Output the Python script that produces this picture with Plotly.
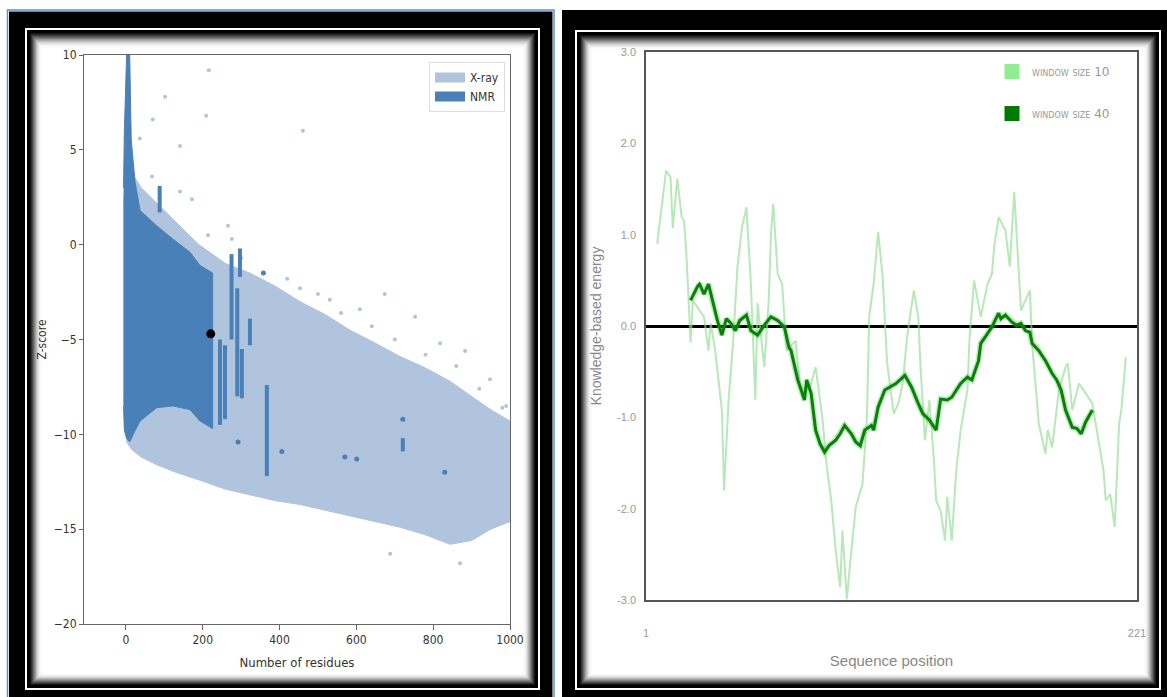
import plotly.graph_objects as go

W, H = 1167, 697

# ---------------- Left panel: ProSA Z-score plot ----------------
xray_env_x = [-7, 2, 15, 40, 80, 130, 190, 260, 323, 390, 453, 520, 583, 650, 714, 780, 844, 900, 950, 1000]
xray_env_top = [2.0, 4.2, 3.8, 3.0, 2.2, 1.2, 0.0, -1.0, -1.5, -2.2, -3.0, -3.7, -4.5, -5.2, -5.9, -6.5, -7.2, -8.0, -8.7, -9.3]
xray_env_bottom = [-8.0, -10.4, -10.8, -11.2, -11.6, -12.0, -12.4, -12.9, -13.2, -13.5, -13.7, -14.0, -14.3, -14.6, -14.9, -15.3, -15.8, -15.6, -15.0, -14.6]

nmr_env_x = [-6, -4, 2, 10, 14, 24, 37, 80, 122, 167, 193, 226]
nmr_env_top = [3.0, 6.0, 10.0, 10.0, 5.5, 3.3, 1.8, 1.0, 0.3, -0.4, -1.1, -1.5]
nmr_env_bottom = [-8.5, -9.8, -10.2, -10.4, -10.3, -9.8, -9.3, -8.6, -8.5, -8.7, -9.3, -9.7]

nmr_streak_x = [88, 245, 258, 275, 290, 297, 302, 323, 367, 721]
nmr_streak_lo = [1.7, -9.5, -9.2, -5.0, -8.0, -1.7, -8.1, -5.3, -12.2, -10.9]
nmr_streak_hi = [3.1, -5.0, -5.3, -0.5, -2.3, -0.2, -5.5, -3.9, -7.4, -10.2]

nmr_pt_x = [292, 406, 570, 601, 721, 830, 358]
nmr_pt_y = [-10.4, -10.9, -11.2, -11.3, -9.2, -12.0, -1.5]

xray_pt_x = [216, 102, 209, 70, 141, 36, 68, 141, 172, 266, 276, 214, 461, 388, 453, 531, 609,
             674, 753, 818, 883, 948, 688, 870, 154, 990, 300, 420, 500, 560, 640, 700, 780, 860,
             920, 980]
xray_pt_y = [9.2, 7.8, 6.8, 6.6, 5.2, 5.6, 3.6, 2.8, 2.4, 1.0, 0.3, 0.5, 6.0, -2.9, -2.3, -2.9, -3.4,
             -2.6, -3.8, -5.2, -5.6, -7.1, -16.3, -16.8, -11.8, -8.5, -0.7, -1.8, -2.6, -3.6, -4.3,
             -5.0, -5.8, -6.4, -7.6, -8.6]

query_x = [221]
query_y = [-4.7]

x_ticks_left = [0, 200, 400, 600, 800, 1000]
y_ticks_left = [10, 5, 0, -5, -10, -15, -20]

# ---------------- Right panel: energy profile ----------------
w10_pos = [6, 8, 10, 12, 13, 15, 17, 18, 19, 21, 22, 25, 27, 29, 30, 32, 35, 36, 38, 40, 42, 44, 46, 48,
           50, 51, 54, 56, 57, 58, 60, 62, 64, 68, 70, 72, 75, 77, 80, 82, 84, 86, 88, 89, 91, 93, 95,
           98, 100, 101, 103, 105, 107, 109, 112, 114, 116, 118, 121, 123, 124, 126, 128, 130, 131,
           133, 135, 136, 138, 140, 142, 145, 146, 148, 151, 154, 156, 157, 159, 162, 164, 166, 168,
           169, 171, 173, 174, 176, 177, 180, 181, 183, 184, 186, 189, 190, 192, 195, 197, 199, 201,
           204, 206, 207, 209, 211, 213, 214, 216]
w10_val = [0.90, 1.27, 1.70, 1.63, 1.07, 1.61, 1.19, 1.16, 0.83, -0.18, 0.28, 0.17, 0.10, -0.27, 0.03,
           -0.27, -0.92, -1.80, -0.81, -0.19, 0.65, 1.08, 1.30, 0.46, -0.81, 0.25, -0.45, 0.28, 1.01,
           1.34, 0.57, 0.46, -0.27, -0.16, -0.63, -0.74, -0.63, -0.45, -1.00, -1.54, -1.91, -2.46,
           -2.86, -2.24, -2.99, -2.46, -1.98, -1.73, -1.00, 0.10, 0.46, 1.03, 0.55, -0.40, -0.96,
           -0.85, -0.63, -0.12, 0.39, 0.10, -0.45, -1.25, -0.81, -1.47, -1.91, -2.02, -2.35, -1.87,
           -2.35, -1.58, -1.14, -0.70, -0.12, 0.50, 0.10, 0.46, 0.57, 0.87, 1.19, 1.05, 0.65, 1.47,
           0.65, 0.17, 0.28, 0.39, -0.19, -0.81, -1.07, -1.40, -1.14, -1.33, -1.11, -0.70, -0.45,
           -0.41, -0.92, -0.63, -0.70, -0.78, -0.85, -1.29, -1.58, -1.91, -1.84, -2.20, -1.07, -0.92,
           -0.34]

w40_pos = [21, 24, 25, 27, 29, 31, 33, 35, 37, 39, 41, 43, 46, 48, 51, 54, 57, 60, 63, 65, 66, 69, 72,
           73, 75, 77, 79, 81, 83, 86, 88, 90, 93, 95, 97, 99, 102, 103, 105, 108, 110, 113, 117, 120,
           123, 125, 128, 131, 133, 136, 138, 140, 142, 145, 147, 150, 151, 153, 156, 159, 160, 162,
           165, 167, 169, 171, 173, 174, 177, 180, 183, 185, 187, 189, 192, 194, 196, 198, 201]
w40_val = [0.28, 0.43, 0.46, 0.35, 0.46, 0.25, 0.06, -0.10, 0.08, 0.03, -0.05, 0.06, 0.12, -0.05,
           -0.10, 0.01, 0.10, 0.06, -0.01, -0.23, -0.27, -0.59, -0.81, -0.59, -0.74, -1.14, -1.29,
           -1.38, -1.31, -1.25, -1.18, -1.09, -1.18, -1.27, -1.31, -1.14, -1.09, -1.14, -0.89, -0.70,
           -0.67, -0.63, -0.54, -0.67, -0.85, -0.96, -1.03, -1.14, -0.80, -0.81, -0.78, -0.70, -0.63,
           -0.56, -0.59, -0.38, -0.19, -0.12, -0.01, 0.14, 0.08, 0.12, 0.04, 0.01, 0.03, -0.05, -0.07,
           -0.19, -0.27, -0.38, -0.52, -0.59, -0.70, -0.92, -1.11, -1.12, -1.18, -1.05, -0.92]

seq_start, seq_end = 1, 221
y_ticks_right = [3, 2, 1, 0, -1, -2, -3]

# ---------------- colours ----------------
XRAY_C = '#b0c4de'
NMR_C = '#4a80b8'
W10_C = '#90ee90'
W40_C = '#0a800a'

fig = go.Figure()

# X-ray cloud
fig.add_trace(go.Scatter(
    x=xray_env_x + xray_env_x[::-1], y=xray_env_top + xray_env_bottom[::-1],
    fill='toself', fillcolor=XRAY_C, mode='lines', line=dict(color=XRAY_C, width=1),
    name='X-ray', xaxis='x', yaxis='y', hoverinfo='skip', showlegend=False))
fig.add_trace(go.Scatter(x=xray_pt_x, y=xray_pt_y, mode='markers',
                         marker=dict(color=XRAY_C, size=4), xaxis='x', yaxis='y', showlegend=False))
# NMR cloud
fig.add_trace(go.Scatter(
    x=nmr_env_x + nmr_env_x[::-1], y=nmr_env_top + nmr_env_bottom[::-1],
    fill='toself', fillcolor=NMR_C, mode='lines', line=dict(color=NMR_C, width=1),
    name='NMR', xaxis='x', yaxis='y', hoverinfo='skip', showlegend=False))
sx, sy = [], []
for xv, lo, hi in zip(nmr_streak_x, nmr_streak_lo, nmr_streak_hi):
    sx += [xv, xv, None]
    sy += [lo, hi, None]
fig.add_trace(go.Scatter(x=sx, y=sy, mode='lines', line=dict(color=NMR_C, width=4),
                         xaxis='x', yaxis='y', showlegend=False))
fig.add_trace(go.Scatter(x=nmr_pt_x, y=nmr_pt_y, mode='markers',
                         marker=dict(color=NMR_C, size=5), xaxis='x', yaxis='y', showlegend=False))
fig.add_trace(go.Scatter(x=query_x, y=query_y, mode='markers',
                         marker=dict(color='black', size=9), xaxis='x', yaxis='y', showlegend=False))
# left legend entries
fig.add_trace(go.Scatter(x=[None], y=[None], mode='lines', line=dict(color=XRAY_C, width=12),
                         name='X-ray', xaxis='x', yaxis='y', legend='legend'))
fig.add_trace(go.Scatter(x=[None], y=[None], mode='lines', line=dict(color=NMR_C, width=12),
                         name='NMR', xaxis='x', yaxis='y', legend='legend'))

# Right panel lines
fig.add_trace(go.Scatter(x=w10_pos, y=w10_val, mode='lines',
                         line=dict(color='rgba(144,220,144,0.65)', width=2),
                         xaxis='x2', yaxis='y2', showlegend=False))
fig.add_trace(go.Scatter(x=w40_pos, y=w40_val, mode='lines',
                         line=dict(color='rgba(60,200,60,0.35)', width=6),
                         xaxis='x2', yaxis='y2', showlegend=False))
fig.add_trace(go.Scatter(x=w40_pos, y=w40_val, mode='lines',
                         line=dict(color=W40_C, width=3),
                         xaxis='x2', yaxis='y2', showlegend=False))
fig.add_trace(go.Scatter(x=[None], y=[None], mode='markers', name='window size 10',
                         marker=dict(symbol='square', size=15, color=W10_C),
                         xaxis='x2', yaxis='y2', legend='legend2', legendgroup='a'))
fig.add_trace(go.Scatter(x=[None], y=[None], mode='markers', name='window size 40',
                         marker=dict(symbol='square', size=15, color='#007a00'),
                         xaxis='x2', yaxis='y2', legend='legend2', legendgroup='b'))

# ---------------- decorative frames ----------------
shapes = []


def prect(x0, y0, x1, y1, fill=None, lc=None, lw=0):
    d = dict(type='rect', xref='paper', yref='paper', layer='below',
             x0=x0 / W, x1=x1 / W, y0=1 - y1 / H, y1=1 - y0 / H,
             line=dict(color=lc or 'rgba(0,0,0,0)', width=lw))
    if fill:
        d['fillcolor'] = fill
    shapes.append(d)


GRAD = ['#151515', '#2e2e2e', '#474747', '#626262', '#7d7d7d', '#989898', '#b2b2b2',
        '#c9c9c9', '#dcdcdc', '#ebebeb', '#f5f5f5', '#fbfbfb', '#ffffff']


def frame(outer, wline, inner, blue=False):
    if blue:
        prect(outer[0] - 1.5, outer[1] - 1.5, outer[2] + 1.5, outer[3] + 1.5, lc='#5b8fd0', lw=1.5)
    prect(*outer, fill='black')
    prect(*wline, lc='white', lw=2)
    x0, y0, x1, y1 = inner
    for i, c in enumerate(GRAD):
        s = i * 0.95
        prect(x0 + s, y0 + s * 1.25, x1 - s, y1 - s, fill=c)


frame((9, 11.5, 552.5, 700), (26, 29, 539, 689), (30, 33, 535, 685), blue=True)
frame((562, 10, 1170, 700), (576, 31, 1160, 689), (580, 35, 1156, 685))

LFONT = 'Liberation Sans Narrow, DejaVu Sans Condensed, Arial Narrow, sans-serif'
RFONT = 'Liberation Sans, Arial, sans-serif'

fig.update_layout(
    width=W, height=H, margin=dict(l=0, r=0, t=0, b=0, autoexpand=False),
    paper_bgcolor='white', plot_bgcolor='rgba(0,0,0,0)',
    shapes=shapes,
    xaxis=dict(domain=[84 / W, 510 / W], range=[-109, 1000], tickvals=x_ticks_left,
               automargin=False,
               showgrid=False, zeroline=False, showline=True, mirror=True, linecolor='#666',
               linewidth=1, ticks='outside', ticklen=5, tickcolor='#666',
               tickfont=dict(family=LFONT, size=12, color='#333'),
               title=dict(text='Number of residues', standoff=11,
                          font=dict(family=LFONT, size=13, color='#333')),
               anchor='y'),
    yaxis=dict(domain=[1 - 624 / H, 1 - 55 / H], range=[-20, 10], tickvals=y_ticks_left,
               automargin=False,
               ticktext=[str(v).replace('-', '\u2212') for v in y_ticks_left],
               showgrid=False, zeroline=False, showline=True, mirror=True, linecolor='#666',
               linewidth=1, ticks='outside', ticklen=4, tickcolor='#666',
               tickfont=dict(family=LFONT, size=12, color='#333'),
               title=dict(text='Z-score', standoff=4,
                          font=dict(family=LFONT, size=12, color='#333')),
               anchor='x'),
    xaxis2=dict(domain=[646 / W, 1137 / W], range=[seq_start, seq_end],
                automargin=False,
                tickvals=[seq_start, seq_end], ticktext=[str(seq_start), str(seq_end)],
                showgrid=False, zeroline=False, showline=True, mirror=True, linecolor='#555',
                linewidth=1.5, ticks='outside', ticklen=22, tickcolor='rgba(0,0,0,0)',
                tickfont=dict(family=RFONT, size=11, color='#999'),
                title=dict(text='Sequence position', standoff=18,
                           font=dict(family=RFONT, size=15, color='#888')),
                anchor='y2'),
    yaxis2=dict(domain=[1 - 600 / H, 1 - 52 / H], range=[-3, 3], tickvals=y_ticks_right,
                automargin=False,
                ticktext=['%.1f' % v for v in y_ticks_right],
                showgrid=False, zeroline=True, zerolinecolor='black', zerolinewidth=2.5,
                showline=True, mirror=True, linecolor='#555', linewidth=1.5,
                ticks='outside', ticklen=6, tickcolor='rgba(0,0,0,0)',
                tickfont=dict(family=RFONT, size=11, color='#999'),
                title=dict(text='Knowledge-based energy', standoff=12,
                           font=dict(family=RFONT, size=14, color='#888')),
                anchor='x2'),
    legend=dict(x=505 / W, xanchor='right', y=1 - 62 / H, yanchor='top',
                bgcolor='white', bordercolor='#ddd', borderwidth=1,
                font=dict(family=LFONT, size=12, color='#333'), itemwidth=30,
                tracegroupgap=0),
    legend2=dict(x=992 / W, xanchor='left', y=1 - 57 / H, yanchor='top',
                 bgcolor='rgba(0,0,0,0)', tracegroupgap=23,
                 font=dict(family='DejaVu Sans, sans-serif', size=12, color='#999',
                           variant='small-caps')),
    showlegend=True,
)

fig.write_html('out.html', config={'displayModeBar': False},
               post_script=("document.documentElement.style.overflow='hidden';"
                            "document.body.style.overflow='hidden';"
                            "document.body.style.margin='0';document.body.style.padding='0';"))
